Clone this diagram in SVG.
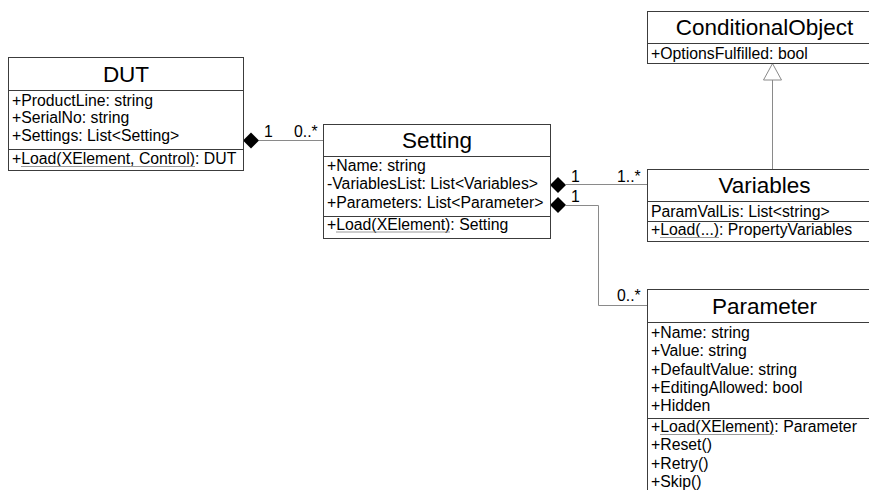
<svg xmlns="http://www.w3.org/2000/svg" width="869" height="490" viewBox="0 0 869 490">
  <defs>
    <style>
      .box { fill: #ffffff; stroke: #3c3c3c; stroke-width: 1; }
      .sep { stroke: #3c3c3c; stroke-width: 1; }
      .title { font-family: "Liberation Sans", Arial, sans-serif; font-size: 22.5px; text-anchor: middle; fill: #000000; }
      .mem { font-family: "Liberation Sans", Arial, sans-serif; font-size: 15.8px; fill: #000000; }
      .uline { stroke: #9a9a9a; stroke-width: 1; }
      .wire { fill: none; stroke: #8a8a8a; stroke-width: 1; }
      .comp { fill: #000000; stroke: none; }
      .gen { fill: #ffffff; stroke: #8a8a8a; stroke-width: 1; }
    </style>
  </defs>

  <rect x="0" y="0" width="869" height="490" fill="#ffffff"/>

  <!-- associations and inheritance -->
  <g id="connectors">
    <!-- DUT owns Setting -->
    <line class="wire" x1="259" y1="140.5" x2="323" y2="140.5"/>
    <polygon class="comp" points="243,140.5 251,132.5 259,140.5 251,148.5"/>
    <text class="mem" x="264" y="137">1</text>
    <text class="mem" x="294" y="137">0..*</text>

    <!-- Setting owns Variables -->
    <line class="wire" x1="566" y1="184.5" x2="647" y2="184.5"/>
    <polygon class="comp" points="550,185 558,177 566,185 558,193"/>
    <text class="mem" x="571" y="182">1</text>
    <text class="mem" x="617" y="182">1..*</text>

    <!-- Setting owns Parameter -->
    <path class="wire" d="M566 205.5 H598.5 V305.5 H647"/>
    <polygon class="comp" points="550,205 558,197 566,205 558,213"/>
    <text class="mem" x="571" y="202">1</text>
    <text class="mem" x="617" y="301">0..*</text>

    <!-- Variables extends ConditionalObject -->
    <line class="wire" x1="772.5" y1="80" x2="772.5" y2="169"/>
    <polygon class="gen" points="772.5,63.5 763.5,80 781.5,80"/>
  </g>

  <g id="DUT">
    <rect class="box" x="8.5" y="57.5" width="235" height="113"/>
    <line class="sep" x1="8.5" y1="90.5" x2="243.5" y2="90.5"/>
    <line class="sep" x1="8.5" y1="149.5" x2="243.5" y2="149.5"/>
    <text class="title" x="126" y="82">DUT</text>
    <text class="mem" x="12" y="105.5">+ProductLine: string</text>
    <text class="mem" x="12" y="123">+SerialNo: string</text>
    <text class="mem" x="12" y="140.5">+Settings: List&lt;Setting&gt;</text>
    <text class="mem" x="12" y="164">+Load(XElement, Control): DUT</text>
    <!-- static method underline -->
    <line class="uline" x1="21" y1="166.5" x2="195" y2="166.5"/>
  </g>

  <g id="Setting">
    <rect class="box" x="323.5" y="124.5" width="227" height="114"/>
    <line class="sep" x1="323.5" y1="156.5" x2="550.5" y2="156.5"/>
    <line class="sep" x1="323.5" y1="216.5" x2="550.5" y2="216.5"/>
    <text class="title" x="437" y="148">Setting</text>
    <text class="mem" x="327" y="170.5">+Name: string</text>
    <text class="mem" x="327" y="189">-VariablesList: List&lt;Variables&gt;</text>
    <text class="mem" x="327" y="207.5">+Parameters: List&lt;Parameter&gt;</text>
    <text class="mem" x="327" y="229.5">+Load(XElement): Setting</text>
    <line class="uline" x1="336" y1="232" x2="450" y2="232"/>
  </g>

  <g id="ConditionalObject">
    <rect class="box" x="647.5" y="11.5" width="234" height="52"/>
    <line class="sep" x1="647.5" y1="43.5" x2="881.5" y2="43.5"/>
    <text class="title" x="764.5" y="35">ConditionalObject</text>
    <text class="mem" x="651" y="59">+OptionsFulfilled: bool</text>
  </g>

  <g id="Variables">
    <rect class="box" x="647.5" y="169.5" width="234" height="72"/>
    <line class="sep" x1="647.5" y1="201.5" x2="881.5" y2="201.5"/>
    <line class="sep" x1="647.5" y1="221.5" x2="881.5" y2="221.5"/>
    <text class="title" x="764.5" y="193">Variables</text>
    <text class="mem" x="651" y="216.5">ParamValLis: List&lt;string&gt;</text>
    <text class="mem" x="651" y="235">+Load(...): PropertyVariables</text>
    <line class="uline" x1="660" y1="237.5" x2="719" y2="237.5"/>
  </g>

  <g id="Parameter">
    <rect class="box" x="647.5" y="289.5" width="234" height="220"/>
    <line class="sep" x1="647.5" y1="322.5" x2="881.5" y2="322.5"/>
    <line class="sep" x1="647.5" y1="418.5" x2="881.5" y2="418.5"/>
    <text class="title" x="764.5" y="313.5">Parameter</text>
    <text class="mem" x="651" y="338">+Name: string</text>
    <text class="mem" x="651" y="356">+Value: string</text>
    <text class="mem" x="651" y="374.5">+DefaultValue: string</text>
    <text class="mem" x="651" y="392.5">+EditingAllowed: bool</text>
    <text class="mem" x="651" y="410.5">+Hidden</text>
    <text class="mem" x="651" y="432">+Load(XElement): Parameter</text>
    <line class="uline" x1="660" y1="434.5" x2="774" y2="434.5"/>
    <text class="mem" x="651" y="450">+Reset()</text>
    <text class="mem" x="651" y="468.5">+Retry()</text>
    <text class="mem" x="651" y="487">+Skip()</text>
  </g>
</svg>
